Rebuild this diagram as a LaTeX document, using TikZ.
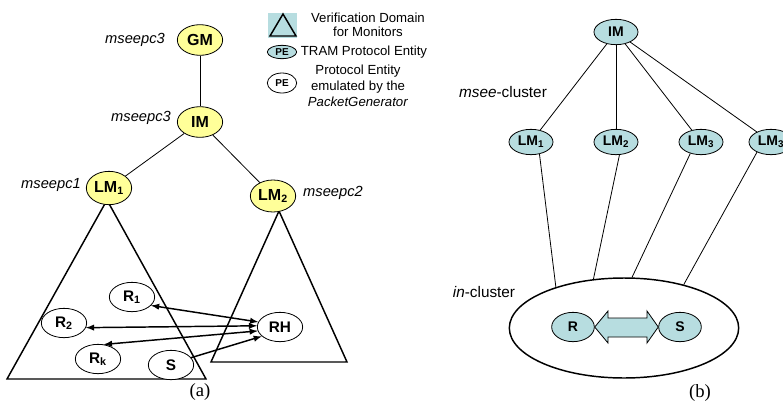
\documentclass[tikz,border=0pt]{standalone}
\usepackage{fontspec}
\setmainfont{Liberation Sans}
\newfontfamily\capfont{Liberation Serif}
\usetikzlibrary{shapes,positioning}
\definecolor{paleY}{HTML}{FFFF99}
\definecolor{paleC}{HTML}{B7DDE0}

\begin{document}
\begin{tikzpicture}
  [x=0.75pt,y=-0.75pt,line width=0.6pt,
   yelN/.style={ellipse,draw,fill=paleY,minimum width=34pt,minimum height=23pt,inner sep=0pt,font=\fontsize{12}{13}\selectfont\bfseries},
   cyaN/.style={ellipse,draw,fill=paleC,minimum width=33pt,minimum height=19pt,inner sep=0pt,font=\fontsize{10.5}{11}\selectfont\bfseries},
   emuN/.style={ellipse,draw,fill=white,minimum width=34pt,minimum height=22pt,inner sep=0pt,font=\fontsize{11.5}{12}\selectfont\bfseries},
   hostL/.style={font=\fontsize{11}{12}\selectfont\itshape},
   keyL/.style={font=\fontsize{9.9}{12}\selectfont,align=center},
   capL/.style={font=\capfont\fontsize{14}{14}\selectfont},
   dom/.style={line width=1.1pt,line join=miter},
   msg/.style={line width=1.1pt,<->,>=latex}]

  \useasboundingbox (0,0) rectangle (783,408);

  % (a) verification domains
  \draw[dom] (107,200) -- (7,379) -- (206,379) -- cycle;
  \draw[dom] (279,211) -- (211,362) -- (347,362) -- cycle;

  \node[yelN] (gm)  at (200,40)  {GM};
  \node[yelN] (im)  at (200,122) {IM};
  \node[yelN,minimum height=25pt] (lmA) at (109,188) {LM\textsubscript{1}};
  \node[yelN,minimum height=24pt] (lmB) at (273,196) {LM\textsubscript{2}};

  \node[hostL] (pcGM)  at (135,40)  {mseepc3};
  \node[hostL] (pcIM)  at (141,118) {mseepc3};
  \node[hostL] (pcLMA) at (51,185)  {mseepc1};
  \node[hostL] (pcLMB) at (333,193) {mseepc2};

  \draw (gm) -- (im);
  \draw (im) -- (lmA);
  \draw (im) -- (lmB);

  \node[emuN] (r1) at (132,297) {R\textsubscript{1}};
  \node[emuN] (r2) at (64,323)  {R\textsubscript{2}};
  \node[emuN] (rk) at (98,359)  {R\textsubscript{k}};
  \node[emuN] (s)  at (171,365) {S};
  \node[emuN] (rh) at (280,327) {RH};

  \draw[msg] (r1.-24) -- (rh.167);
  \draw[msg] (r2.-12) -- (rh.177);
  \draw[msg] (rk.68)  -- (rh.190);
  \draw[msg,->] (s.20) -- (rh.207);

  % legend
  \fill[paleC] (268,13) rectangle (297,38);
  \draw[dom] (270,36) -- (283,14) -- (296,36) -- cycle;
  \node[cyaN,minimum width=22pt,minimum height=10pt,font=\fontsize{7.5}{8}\selectfont\bfseries] (keyT) at (282,52) {PE};
  \node[emuN,minimum width=22pt,minimum height=15pt,font=\fontsize{7.5}{8}\selectfont\bfseries] (keyE) at (282,83) {PE};
  \node[keyL,font=\fontsize{9.9}{10.5}\selectfont] (keyDom) at (368,25) {Verification Domain\\for Monitors};
  \node[keyL] (keyTram) at (364,52) {TRAM Protocol Entity};
  \node[keyL] (keyEmu)  at (358,86) {Protocol Entity\\emulated by the\\\textit{PacketGenerator}};

  \node[capL] (capA) at (200,392) {(a)};

  % (b) clusters
  \node[cyaN] (imR) at (616,32)  {IM};
  \node[cyaN] (lm1) at (531,142) {LM\textsubscript{1}};
  \node[cyaN] (lm2) at (616,142) {LM\textsubscript{2}};
  \node[cyaN] (lm3) at (701,142) {LM\textsubscript{3}};
  \node[cyaN] (lm4) at (771,142) {LM\textsubscript{3}};

  \draw (imR) -- (lm1);
  \draw (imR) -- (lm2);
  \draw (imR) -- (lm3);
  \draw (imR) -- (lm4);

  \node[ellipse,draw,line width=1.1pt,minimum width=172pt,minimum height=75pt,inner sep=0pt] (incl) at (624,328) {};

  \draw (lm1.-55)  -- (incl.149);
  \draw (lm2.-75)  -- (incl.122);
  \draw (lm3.-133) -- (incl.81);
  \draw (lm4.-144) -- (incl.36);

  \node[hostL,font=\fontsize{11.5}{12}\selectfont] (mseeL) at (503,92) {\textit{msee}-cluster};
  \node[hostL,font=\fontsize{11.5}{12}\selectfont] (inL)   at (484,292) {\textit{in}-cluster};

  \node[cyaN,minimum width=32pt,minimum height=22pt] (rr) at (573,327) {R};
  \node[cyaN,minimum width=32pt,minimum height=22pt] (ss) at (680,327) {S};

  \draw[fill=paleC,line join=miter] (rr.east) -- (608,311) -- (608,318) -- (647,318) -- (647,311)
    -- (ss.west) -- (647,343) -- (647,337) -- (608,337) -- (608,343) -- cycle;

  \node[capL] (capB) at (700,393) {(b)};

\end{tikzpicture}
\end{document}
